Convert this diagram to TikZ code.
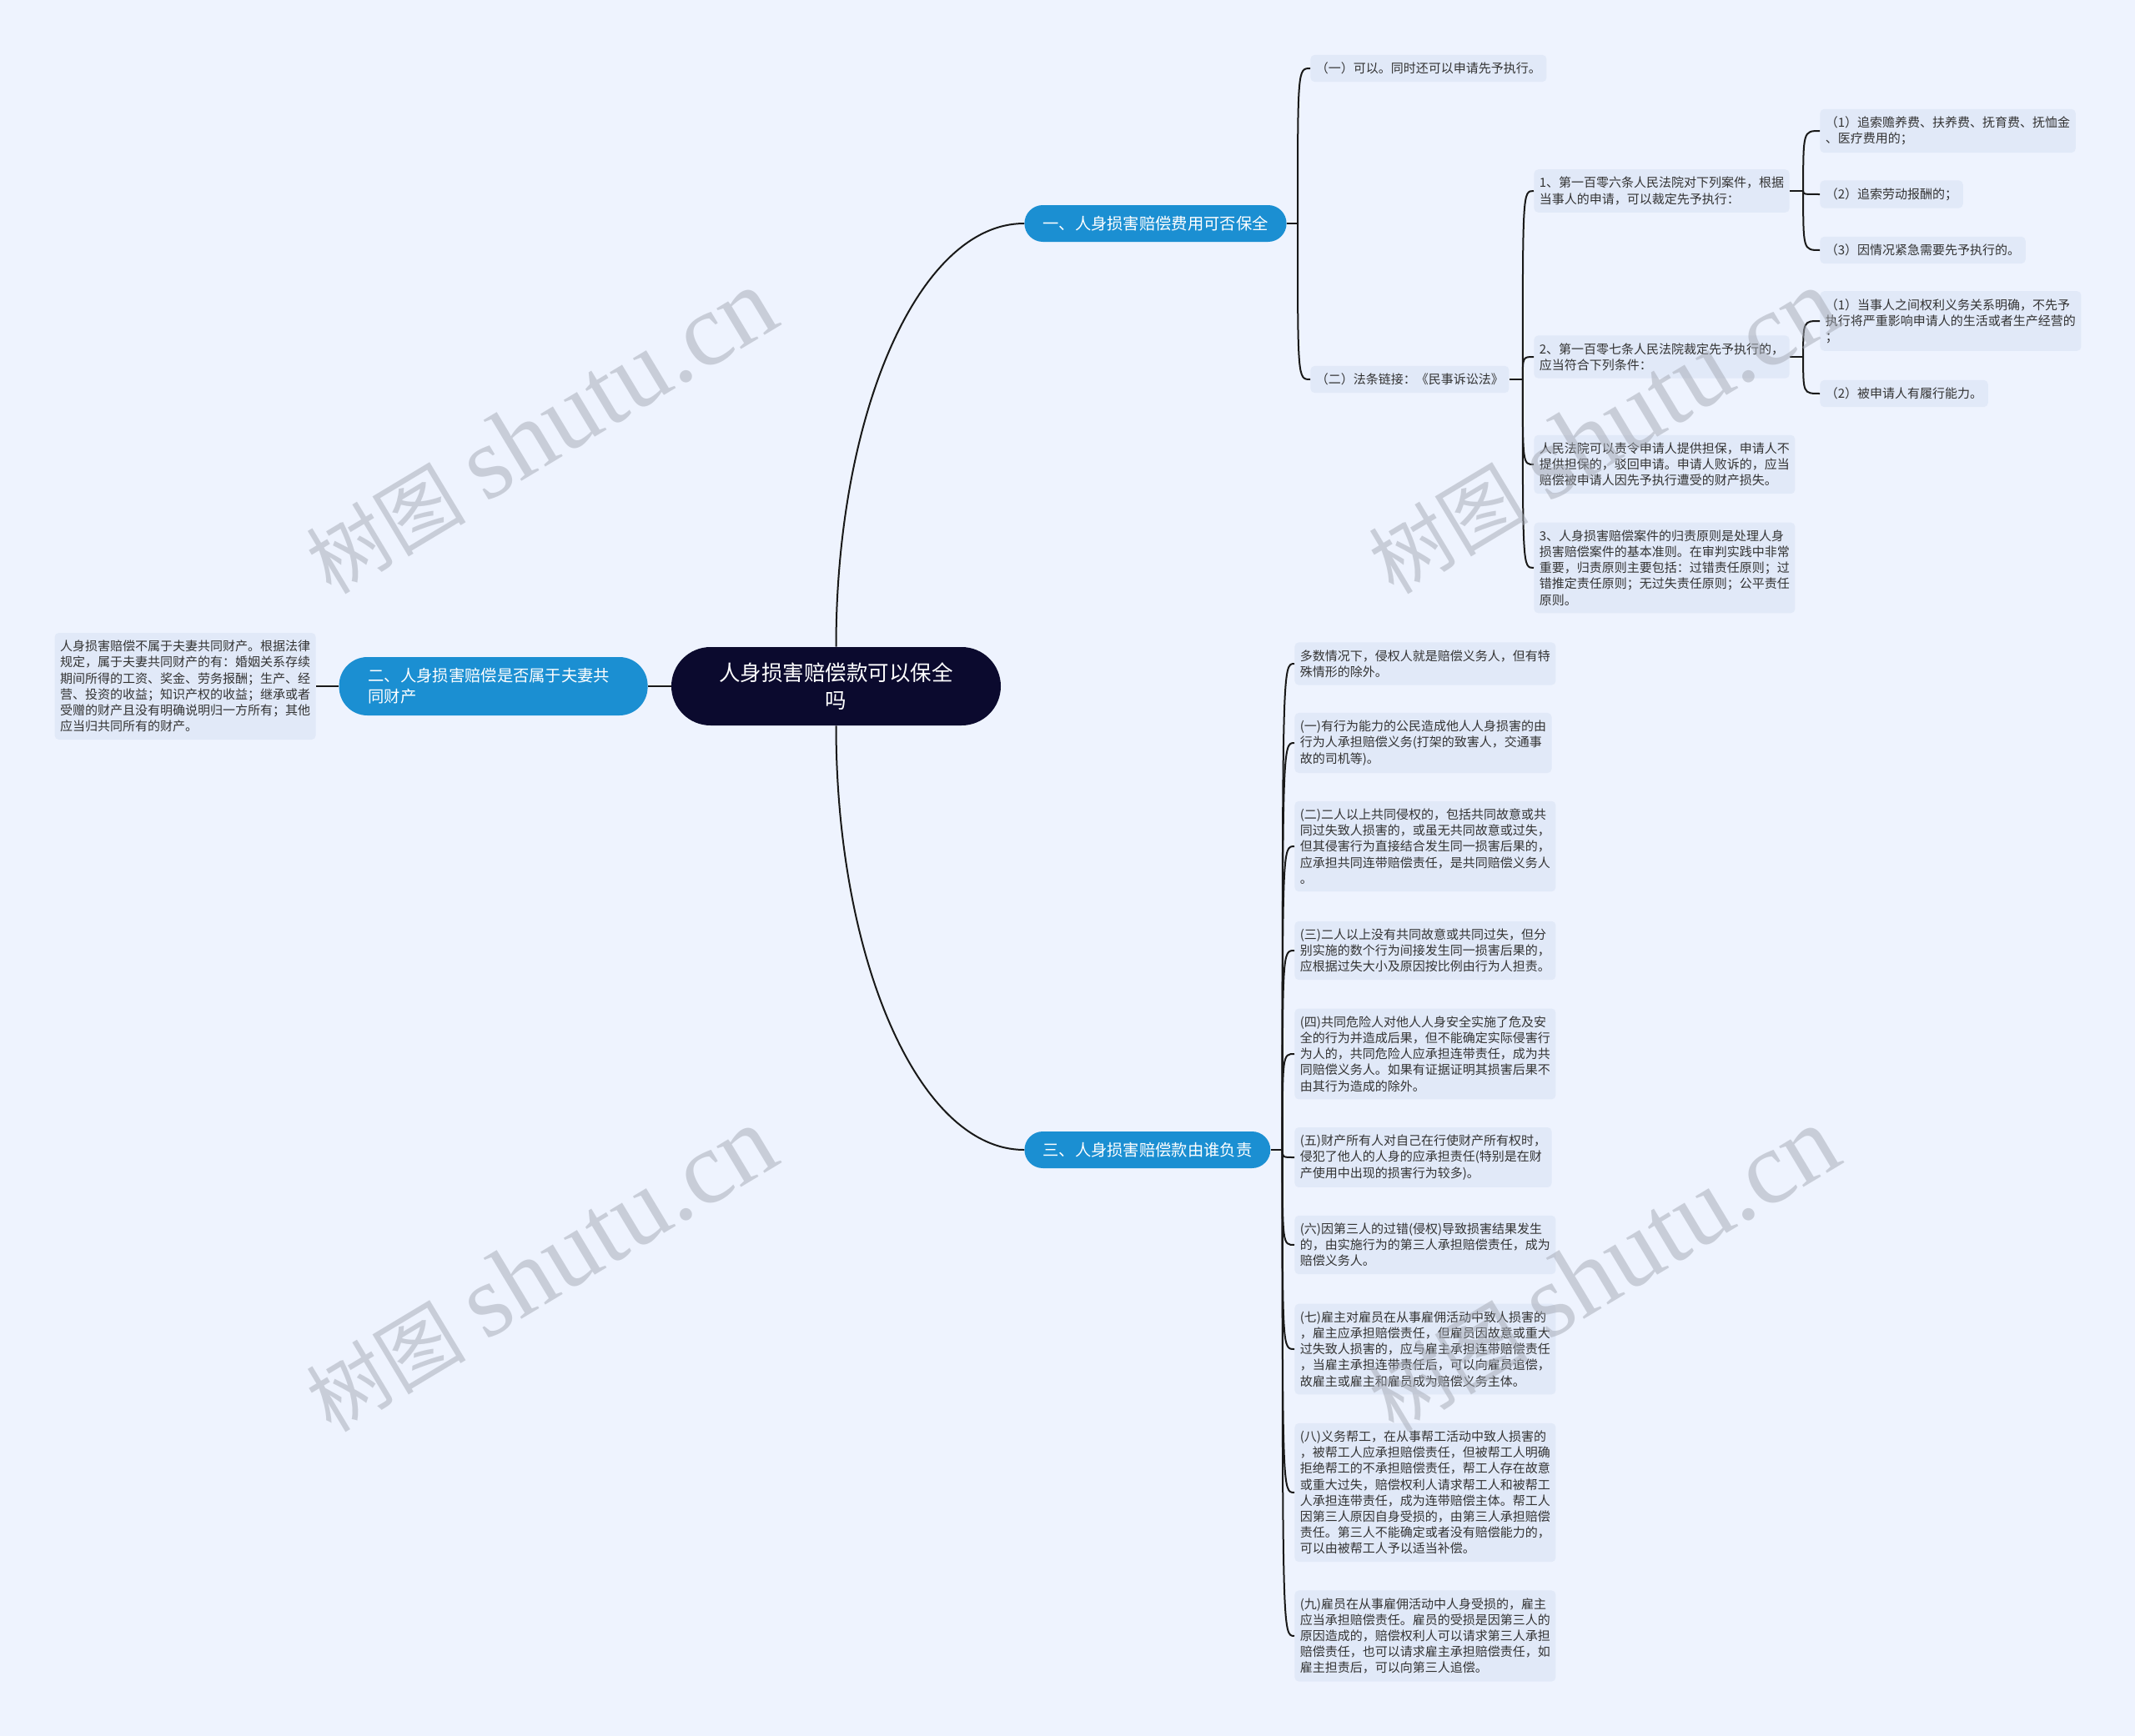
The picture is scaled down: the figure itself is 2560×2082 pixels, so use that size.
\documentclass[tikz,border=0pt]{standalone}
\usepackage{fontspec}
\setmainfont{Noto Sans CJK SC}
\newfontfamily\wmserif{Liberation Serif}
\usetikzlibrary{calc}
\definecolor{bgc}{HTML}{EEF3FE}
\definecolor{leafc}{HTML}{E1E9F8}
\definecolor{bluec}{HTML}{1B8FD2}
\definecolor{rootc}{HTML}{0B0A2E}
\definecolor{txtc}{HTML}{333333}
\definecolor{wmc}{HTML}{A4A9B4}
\newcommand\mmlink[2]{\draw[conn] (#1) .. controls (#1 |- #2.west) .. (#2.west);}
\begin{document}
\begin{tikzpicture}[x=0.5pt,y=-0.5pt,
  leaf/.style={fill=leafc, rounded corners=2.5pt, inner xsep=3.25pt, inner ysep=4.5pt,
    align=left, text=txtc, font=\fontsize{7.5pt}{9.6pt}\selectfont, anchor=west},
  branch/.style={fill=bluec, text=white, rounded corners=11pt, minimum height=22pt,
    inner xsep=11pt, inner ysep=0pt, font=\fontsize{9.65pt}{12.5pt}\selectfont},
  rootbox/.style={fill=rootc, text=white, rounded corners=23.5pt, minimum width=197.5pt,
    minimum height=47pt, inner sep=0pt, align=center, font=\fontsize{12.75pt}{16.5pt}\selectfont},
  conn/.style={draw=black!90, line width=1pt},
  wm/.style={text=wmc, opacity=0.5, rotate=31, inner sep=0pt}]

\fill[bgc] (0,0) rectangle (2560,2082);

% root and branches
\node[rootbox] (root) at (1002.5,823) {人身损害赔偿款可以保全\\吗};
\node[branch, anchor=west] (b1) at (1228,268) {一、人身损害赔偿费用可否保全};
\node[branch, anchor=east, rounded corners=17pt, minimum height=35pt, inner xsep=17.5pt,
  text width=150pt, align=left] (b2) at (777,823) {二、人身损害赔偿是否属于夫妻共\\同财产};
\node[branch, anchor=west] (b3) at (1228,1379) {三、人身损害赔偿款由谁负责};

\draw[conn] (root.north) .. controls ($(root.north)+(0,-276)$) and ($(b1.west)+(-128,0)$) .. (b1.west);
\draw[conn] (root.south) .. controls ($(root.south)+(0,276)$) and ($(b3.west)+(-128,0)$) .. (b3.west);
\draw[conn] (root.west) -- (b2.east);

% branch two
\node[leaf, anchor=east] (l0) at (379,823) {人身损害赔偿不属于夫妻共同财产。根据法律\\规定，属于夫妻共同财产的有：婚姻关系存续\\期间所得的工资、奖金、劳务报酬；生产、经\\营、投资的收益；知识产权的收益；继承或者\\受赠的财产且没有明确说明归一方所有；其他\\应当归共同所有的财产。};
\draw[conn] (b2.west) -- (l0.east);

% branch one
\coordinate (t1) at ($(b1.east)+(13,0)$);
\draw[conn] (b1.east) -- (t1);
\node[leaf] (a1) at (1571,82) {（一）可以。同时还可以申请先予执行。};
\node[leaf] (a2) at (1571,455) {（二）法条链接：《民事诉讼法》};
\mmlink{t1}{a1}
\mmlink{t1}{a2}

\coordinate (t2) at ($(a2.east)+(16,0)$);
\draw[conn] (a2.east) -- (t2);
\node[leaf] (a21) at (1839,229) {1、第一百零六条人民法院对下列案件，根据\\当事人的申请，可以裁定先予执行：};
\node[leaf] (a22) at (1839,428) {2、第一百零七条人民法院裁定先予执行的，\\应当符合下列条件：};
\node[leaf] (a23) at (1839,557) {人民法院可以责令申请人提供担保，申请人不\\提供担保的，驳回申请。申请人败诉的，应当\\赔偿被申请人因先予执行遭受的财产损失。};
\node[leaf] (a24) at (1839,681) {3、人身损害赔偿案件的归责原则是处理人身\\损害赔偿案件的基本准则。在审判实践中非常\\重要，归责原则主要包括：过错责任原则；过\\错推定责任原则；无过失责任原则；公平责任\\原则。};
\mmlink{t2}{a21}
\mmlink{t2}{a22}
\mmlink{t2}{a23}
\mmlink{t2}{a24}

\coordinate (t3) at ($(a21.east)+(16,0)$);
\draw[conn] (a21.east) -- (t3);
\node[leaf] (a211) at (2182,157) {（1）追索赡养费、扶养费、抚育费、抚恤金\\、医疗费用的；};
\node[leaf] (a212) at (2182,233) {（2）追索劳动报酬的；};
\node[leaf] (a213) at (2182,300) {（3）因情况紧急需要先予执行的。};
\mmlink{t3}{a211}
\mmlink{t3}{a212}
\mmlink{t3}{a213}

\coordinate (t4) at ($(a22.east)+(16,0)$);
\draw[conn] (a22.east) -- (t4);
\node[leaf] (a221) at (2182,385) {（1）当事人之间权利义务关系明确，不先予\\执行将严重影响申请人的生活或者生产经营的\\；};
\node[leaf] (a222) at (2182,472) {（2）被申请人有履行能力。};
\mmlink{t4}{a221}
\mmlink{t4}{a222}

% branch three
\coordinate (t5) at ($(b3.east)+(14,0)$);
\draw[conn] (b3.east) -- (t5);
\node[leaf] (c0) at (1552,796) {多数情况下，侵权人就是赔偿义务人，但有特\\殊情形的除外。};
\node[leaf] (c1) at (1552,891) {(一)有行为能力的公民造成他人人身损害的由\\行为人承担赔偿义务(打架的致害人，交通事\\故的司机等)。};
\node[leaf] (c2) at (1552,1015) {(二)二人以上共同侵权的，包括共同故意或共\\同过失致人损害的，或虽无共同故意或过失，\\但其侵害行为直接结合发生同一损害后果的，\\应承担共同连带赔偿责任，是共同赔偿义务人\\。};
\node[leaf] (c3) at (1552,1140) {(三)二人以上没有共同故意或共同过失，但分\\别实施的数个行为间接发生同一损害后果的，\\应根据过失大小及原因按比例由行为人担责。};
\node[leaf] (c4) at (1552,1264) {(四)共同危险人对他人人身安全实施了危及安\\全的行为并造成后果，但不能确定实际侵害行\\为人的，共同危险人应承担连带责任，成为共\\同赔偿义务人。如果有证据证明其损害后果不\\由其行为造成的除外。};
\node[leaf] (c5) at (1552,1388) {(五)财产所有人对自己在行使财产所有权时，\\侵犯了他人的人身的应承担责任(特别是在财\\产使用中出现的损害行为较多)。};
\node[leaf] (c6) at (1552,1493) {(六)因第三人的过错(侵权)导致损害结果发生\\的，由实施行为的第三人承担赔偿责任，成为\\赔偿义务人。};
\node[leaf] (c7) at (1552,1618) {(七)雇主对雇员在从事雇佣活动中致人损害的\\，雇主应承担赔偿责任，但雇员因故意或重大\\过失致人损害的，应与雇主承担连带赔偿责任\\，当雇主承担连带责任后，可以向雇员追偿，\\故雇主或雇主和雇员成为赔偿义务主体。};
\node[leaf] (c8) at (1552,1790) {(八)义务帮工，在从事帮工活动中致人损害的\\，被帮工人应承担赔偿责任，但被帮工人明确\\拒绝帮工的不承担赔偿责任，帮工人存在故意\\或重大过失，赔偿权利人请求帮工人和被帮工\\人承担连带责任，成为连带赔偿主体。帮工人\\因第三人原因自身受损的，由第三人承担赔偿\\责任。第三人不能确定或者没有赔偿能力的，\\可以由被帮工人予以适当补偿。};
\node[leaf] (c9) at (1552,1962) {(九)雇员在从事雇佣活动中人身受损的，雇主\\应当承担赔偿责任。雇员的受损是因第三人的\\原因造成的，赔偿权利人可以请求第三人承担\\赔偿责任，也可以请求雇主承担赔偿责任，如\\雇主担责后，可以向第三人追偿。};
\foreach \c in {c0,c1,c2,c3,c4,c5,c6,c7,c8,c9} {\mmlink{t5}{\c}}

% watermarks
\node[wm] (wm1) at (648,518) {\fontsize{48pt}{48pt}\selectfont 树图\hspace{12pt}{\wmserif\fontsize{62pt}{62pt}\selectfont shutu.cn}};
\node[wm] (wm2) at (1922,518) {\fontsize{48pt}{48pt}\selectfont 树图\hspace{12pt}{\wmserif\fontsize{62pt}{62pt}\selectfont shutu.cn}};
\node[wm] (wm3) at (648,1523) {\fontsize{48pt}{48pt}\selectfont 树图\hspace{12pt}{\wmserif\fontsize{62pt}{62pt}\selectfont shutu.cn}};
\node[wm] (wm4) at (1922,1523) {\fontsize{48pt}{48pt}\selectfont 树图\hspace{12pt}{\wmserif\fontsize{62pt}{62pt}\selectfont shutu.cn}};
\end{tikzpicture}
\end{document}
